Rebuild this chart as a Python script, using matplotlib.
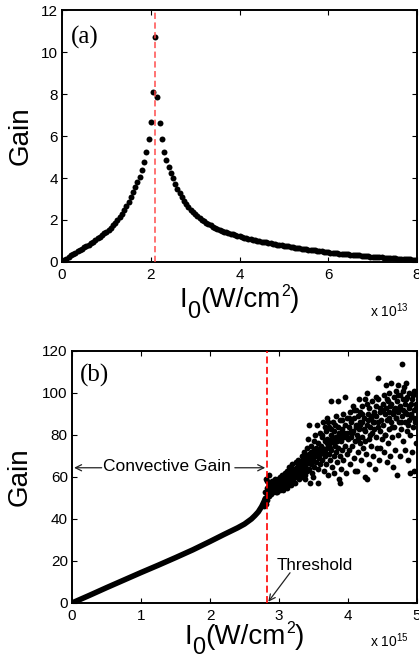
import matplotlib
matplotlib.use("Agg")
import matplotlib.pyplot as plt

plt.rcParams['font.family'] = ['Liberation Sans', 'DejaVu Sans']
plt.rcParams['mathtext.fontset'] = 'custom'
plt.rcParams['mathtext.rm'] = 'Liberation Sans'
plt.rcParams['mathtext.it'] = 'Liberation Sans:italic'
plt.rcParams['lines.scale_dashes'] = False

# ---- panel (a): gain vs intensity (units of 1e13 W/cm^2)
xa_left = [0.00, 0.05, 0.10, 0.15, 0.20, 0.25, 0.30, 0.35, 0.40, 0.45,
           0.50, 0.55, 0.60, 0.65, 0.70, 0.75, 0.80, 0.85, 0.90, 0.95,
           1.00, 1.05, 1.10, 1.15, 1.20, 1.25, 1.30, 1.35, 1.40, 1.45,
           1.50, 1.55, 1.60, 1.65, 1.70, 1.75, 1.80, 1.85, 1.90, 1.95,
           2.00, 2.05]
ya_left = [0.00, 0.08, 0.16, 0.24, 0.31, 0.38, 0.45, 0.51, 0.57, 0.63,
           0.70, 0.76, 0.83, 0.90, 0.97, 1.04, 1.12, 1.20, 1.28, 1.36,
           1.45, 1.54, 1.64, 1.75, 1.87, 2.00, 2.14, 2.30, 2.47, 2.65,
           2.85, 3.10, 3.33, 3.57, 3.80, 4.05, 4.38, 4.78, 5.22, 5.84,
           6.67, 8.08]
xa_right = [2.10, 2.15, 2.20, 2.25, 2.30, 2.35, 2.40, 2.45, 2.50, 2.55,
            2.60, 2.65, 2.70, 2.75, 2.80, 2.85, 2.90, 2.95, 3.00, 3.05,
            3.10, 3.15, 3.20, 3.25, 3.30, 3.35, 3.40, 3.45, 3.50, 3.55,
            3.60, 3.65, 3.70, 3.75, 3.80, 3.85, 3.90, 3.95, 4.00, 4.05,
            4.10, 4.15, 4.20, 4.25, 4.30, 4.35, 4.40, 4.45, 4.50, 4.55,
            4.60, 4.65, 4.70, 4.75, 4.80, 4.85, 4.90, 4.95, 5.00, 5.05,
            5.10, 5.15, 5.20, 5.25, 5.30, 5.35, 5.40, 5.45, 5.50, 5.55,
            5.60, 5.65, 5.70, 5.75, 5.80, 5.85, 5.90, 5.95, 6.00, 6.05,
            6.10, 6.15, 6.20, 6.25, 6.30, 6.35, 6.40, 6.45, 6.50, 6.55,
            6.60, 6.65, 6.70, 6.75, 6.80, 6.85, 6.90, 6.95, 7.00, 7.05,
            7.10, 7.15, 7.20, 7.25, 7.30, 7.35, 7.40, 7.45, 7.50, 7.55,
            7.60, 7.65, 7.70, 7.75, 7.80, 7.85, 7.90, 7.95, 8.00]
ya_right = [10.73, 7.86, 6.60, 5.84, 5.25, 4.86, 4.52, 4.24, 3.98, 3.72,
            3.48, 3.28, 3.08, 2.90, 2.76, 2.62, 2.49, 2.38, 2.27, 2.18,
            2.09, 2.01, 1.94, 1.87, 1.80, 1.74, 1.68, 1.63, 1.58, 1.53,
            1.49, 1.45, 1.41, 1.37, 1.34, 1.31, 1.28, 1.25, 1.22, 1.19,
            1.16, 1.13, 1.11, 1.08, 1.06, 1.04, 1.02, 0.99, 0.97, 0.95,
            0.93, 0.91, 0.89, 0.87, 0.85, 0.83, 0.81, 0.80, 0.78, 0.76,
            0.74, 0.72, 0.71, 0.69, 0.67, 0.66, 0.64, 0.62, 0.61, 0.59,
            0.58, 0.56, 0.55, 0.53, 0.52, 0.50, 0.49, 0.47, 0.46, 0.45,
            0.44, 0.43, 0.42, 0.40, 0.39, 0.38, 0.37, 0.36, 0.35, 0.34,
            0.33, 0.32, 0.31, 0.30, 0.29, 0.28, 0.27, 0.26, 0.25, 0.24,
            0.23, 0.23, 0.22, 0.21, 0.20, 0.19, 0.19, 0.18, 0.17, 0.16,
            0.16, 0.15, 0.14, 0.13, 0.13, 0.12, 0.11, 0.11, 0.10]
threshold_a = 2.10

# ---- panel (b): gain vs intensity (units of 1e15 W/cm^2)
xb_line = [0.00, 0.25, 0.50, 0.75, 1.00, 1.25, 1.50, 1.75, 2.00, 2.20,
           2.40, 2.50, 2.60, 2.65, 2.70, 2.75, 2.80]
yb_line = [0.0, 3.6, 7.3, 10.9, 14.5, 18.0, 21.6, 25.3, 29.3, 32.6,
           35.8, 37.6, 40.0, 41.6, 43.4, 46.0, 49.5]

xb_scatter = [
    2.78, 2.79, 2.80, 2.80, 2.81, 2.82, 2.82, 2.83, 2.83, 2.84, 2.84, 2.85, 2.86, 2.86, 2.87, 2.87, 2.88, 2.89, 2.89,
    2.90, 2.90, 2.91, 2.92, 2.92, 2.93, 2.94, 2.94, 2.95, 2.96, 2.96, 2.97, 2.98, 2.98, 2.99, 3.00, 2.85, 2.81,
    3.01, 3.02, 3.02, 3.03, 3.04, 3.05, 3.05, 3.06, 3.07, 3.07, 3.08, 3.09, 3.10, 3.10, 3.11, 3.12, 3.12, 3.13, 3.14,
    3.15, 3.15, 3.16, 3.17, 3.17, 3.18, 3.19, 3.20, 3.20, 3.21, 3.22, 3.23, 3.23, 3.24, 3.25, 3.25, 3.26, 3.27, 3.28,
    3.28, 3.29, 3.30, 3.30,
    3.31, 3.32, 3.32, 3.33, 3.34, 3.35, 3.35, 3.36, 3.37, 3.37, 3.38, 3.39, 3.40, 3.40, 3.41, 3.42, 3.42, 3.43, 3.43,
    3.44, 3.45, 3.45, 3.46, 3.47, 3.47, 3.48, 3.49, 3.50, 3.50, 3.51, 3.52, 3.52, 3.53, 3.54, 3.55, 3.55, 3.56, 3.56,
    3.57, 3.58, 3.58, 3.59, 3.60, 3.60, 3.38, 3.49,
    3.61, 3.62, 3.63, 3.64, 3.64, 3.65, 3.66, 3.67, 3.68, 3.68, 3.69, 3.70, 3.70, 3.71, 3.72, 3.73, 3.73, 3.74, 3.75,
    3.75, 3.76, 3.77, 3.78, 3.78, 3.79, 3.80, 3.80, 3.81, 3.82, 3.83, 3.83, 3.84, 3.85, 3.85, 3.86, 3.87, 3.87, 3.88,
    3.88, 3.89, 3.90, 3.90, 3.91, 3.92, 3.93, 3.93, 3.94, 3.95, 3.96, 3.96, 3.97, 3.98, 3.98, 3.99, 4.00,
    4.01, 4.02, 4.03, 4.03, 4.04, 4.05, 4.06, 4.07, 4.07, 4.08, 4.09, 4.10, 4.10, 4.11, 4.12, 4.13, 4.13, 4.14, 4.15,
    4.16, 4.16, 4.17, 4.18, 4.19, 4.20, 4.20, 4.21, 4.22, 4.23, 4.24, 4.25, 4.25, 4.26, 4.27, 4.27, 4.28, 4.29, 4.30,
    4.31, 4.31, 4.32, 4.33, 4.34, 4.35, 4.35, 4.36, 4.37, 4.38, 4.39, 4.40, 4.40, 4.41, 4.42, 4.43, 4.43, 4.44, 4.45,
    4.46, 4.46, 4.47, 4.48, 4.49, 4.50,
    4.51, 4.52, 4.52, 4.53, 4.54, 4.55, 4.55, 4.56, 4.57, 4.58, 4.58, 4.59, 4.60, 4.60, 4.61, 4.62, 4.62, 4.63, 4.64,
    4.65, 4.65, 4.66, 4.67, 4.68, 4.68, 4.69, 4.70, 4.71, 4.71, 4.72, 4.73, 4.73, 4.74, 4.75, 4.75, 4.76, 4.77, 4.78,
    4.78, 4.79, 4.80, 4.80, 4.81, 4.82, 4.83, 4.83, 4.84, 4.85, 4.85, 4.86, 4.87, 4.88, 4.88, 4.89, 4.90, 4.90, 4.91,
    4.92, 4.93, 4.93, 4.94, 4.95, 4.95, 4.96, 4.97, 4.98, 4.99, 5.00,
    2.88, 2.91, 2.93, 2.95, 2.97, 2.99, 3.01, 3.03, 3.06, 3.08, 3.11, 3.13, 3.16, 3.18, 3.21, 3.24, 3.26, 3.29, 3.31,
    3.34, 3.36, 3.39, 3.41, 3.44, 3.46, 3.48, 3.51, 3.53, 3.57, 3.59, 3.62, 3.66, 3.69, 3.72, 3.74, 3.77, 3.79, 3.82,
    3.84, 3.86, 3.89, 3.91, 3.94, 3.97, 4.05, 4.12, 4.18, 4.23, 4.29, 4.36,
    4.02, 4.06, 4.09, 4.14, 4.17, 4.21, 4.24, 4.28, 4.32, 4.34, 4.38, 4.41, 4.44, 4.47, 4.51, 4.53, 4.56, 4.59, 4.61,
    4.64, 4.66, 4.69, 4.72, 4.74, 4.77, 4.79, 4.82, 4.84, 4.87, 4.89, 4.91, 4.94, 4.96, 4.98, 3.63, 3.67, 3.71, 3.76,
    3.81, 3.92,
]
yb_scatter = [
    46, 48, 50, 53, 47, 51, 55, 49, 58, 52, 54, 56, 53, 51, 55, 57, 54, 52, 56,
    55, 58, 53, 56, 54, 57, 55, 59, 53, 56, 58, 55, 57, 54, 59, 56, 61, 59,
    54, 57, 60, 55, 58, 56, 61, 54, 59, 57, 62, 56, 58, 60, 55, 63, 59, 57, 61,
    65, 58, 60, 56, 63, 59, 66, 61, 58, 64, 60, 62, 57, 67, 63, 60, 65, 61, 68,
    64, 59, 66, 62,
    63, 67, 60, 70, 64, 62, 68, 72, 65, 61, 69, 66, 74, 63, 70, 67, 78, 64, 85,
    71, 57, 68, 75, 66, 72, 62, 69, 77, 73, 65, 70, 80, 67, 74, 85, 71, 57, 64,
    76, 69, 73, 81, 66, 71, 59, 60,
    75, 79, 68, 86, 72, 63, 77, 70, 82, 66, 74, 88, 78, 61, 71, 84, 76, 68, 96,
    80, 73, 65, 86, 77, 70, 82, 62, 75, 89, 72, 79, 67, 96, 84, 74, 59, 81, 57,
    70, 87, 77, 64, 83, 73, 90, 68, 79, 85, 98, 75, 62, 81, 71, 88, 78,
    84, 73, 91, 66, 79, 86, 75, 94, 82, 69, 88, 77, 63, 85, 92, 63, 80, 72, 89,
    97, 83, 76, 91, 68, 86, 79, 94, 74, 88, 82, 60, 97, 71, 100, 85, 59, 90, 78,
    93, 66, 84, 88, 75, 96, 81, 70, 91, 86, 64, 79, 94, 89, 74, 107, 84, 97, 68,
    74, 91, 82, 87, 78, 95,
    85, 99, 72, 90, 80, 104, 93, 67, 87, 96, 76, 83, 100, 91, 70, 105, 86, 95, 79,
    65, 90, 98, 84, 73, 93, 101, 88, 61, 96, 80, 104, 91, 86, 70, 99, 94, 83, 114,
    89, 97, 77, 92, 103, 86, 73, 95, 105, 90, 82, 98, 68, 93, 87, 100, 62, 80, 95,
    89, 72, 97, 84, 101, 63, 92, 86, 95, 76, 94,
    57, 54, 58, 57, 53, 55, 58, 56, 57, 60, 59, 61, 62, 61, 63, 62, 64, 63, 65,
    66, 66, 68, 68, 70, 71, 67, 72, 71, 73, 72, 74, 72, 76, 75, 74, 78, 76, 79,
    77, 78, 80, 79, 81, 80, 82, 84, 85, 83, 87, 86,
    88, 81, 92, 78, 86, 90, 77, 95, 80, 89, 83, 98, 86, 93, 92, 80, 97, 88, 94,
    84, 92, 88, 99, 93, 86, 101, 91, 97, 85, 94, 90, 99, 88, 93, 80, 84, 86, 83,
    85, 87,
]
threshold_b = 2.82

W, H = 419, 662
fig = plt.figure(figsize=(W / 100, H / 100), dpi=100)


def px_axes(left, top, right, bottom):
    return fig.add_axes([left / W, 1 - bottom / H, (right - left) / W, (bottom - top) / H])


def style_axes(ax):
    for s in ax.spines.values():
        s.set_linewidth(1.4)
    ax.tick_params(direction='in', length=3.5, width=0.8, top=True, right=True,
                   labelsize=11, pad=4)
    ax.tick_params(axis='y', pad=3)


def rich_label(xc, ybase, parts):
    # parts: (text, fontsize, vertical offset in px, downward positive)
    r = fig.canvas.get_renderer()
    items = []
    for s, fs, dy in parts:
        t = fig.text(0, 0, s, fontsize=fs, ha='left', va='baseline')
        items.append((t, dy, t.get_window_extent(r).width))
    x = xc - sum(w for _, _, w in items) / 2
    for t, dy, w in items:
        t.set_position((x / W, 1 - (ybase + dy) / H))
        x += w


# ---------------- panel (a)
ax1 = px_axes(62, 10, 417, 262)
ax1.plot(xa_left, ya_left, 'o', color='black', ms=4.3, mew=0)
ax1.plot(xa_right, ya_right, 'o', color='black', ms=4.3, mew=0)
ax1.axvline(threshold_a, color='#ff4545', alpha=0.75, lw=1.4, ls=(0, (4.5, 2.5)), zorder=5)
ax1.set_xlim(0, 8)
ax1.set_ylim(0, 12)
ax1.set_xticks([0, 2, 4, 6, 8])
ax1.set_yticks([0, 2, 4, 6, 8, 10, 12])
style_axes(ax1)
ax1.text(0.026, 0.893, '(a)', transform=ax1.transAxes, fontsize=18,
         family='Liberation Serif', ha='left', va='center')

# ---------------- panel (b)
ax2 = px_axes(72, 351, 417, 603)
ax2.plot(xb_line, yb_line, '-', color='black', lw=4.0, solid_capstyle='round')
ax2.plot(xb_scatter, yb_scatter, 'o', color='black', ms=4.2, mew=0)
ax2.axvline(threshold_b, color='red', lw=1.2, ls=(0, (5, 2.5)), zorder=5)
ax2.set_xlim(0, 5)
ax2.set_ylim(0, 120)
ax2.set_xticks([0, 1, 2, 3, 4, 5])
ax2.set_yticks([0, 20, 40, 60, 80, 100, 120])
style_axes(ax2)
ax2.text(0.022, 0.903, '(b)', transform=ax2.transAxes, fontsize=18,
         family='Liberation Serif', ha='left', va='center')

arrow = dict(arrowstyle='->', color='#222222', lw=0.9, shrinkA=0, shrinkB=0,
             mutation_scale=11)
ax2.text(1.38, 64.8, 'Convective Gain', fontsize=12.5, ha='center', va='center')
ax2.annotate('', xy=(0.03, 64.4), xytext=(0.43, 64.4), arrowprops=arrow)
ax2.annotate('', xy=(2.80, 64.4), xytext=(2.36, 64.4), arrowprops=arrow)
ax2.text(2.96, 15.7, 'Threshold', fontsize=12.3, ha='left', va='baseline')
ax2.annotate('', xy=(2.845, 0.6), xytext=(3.16, 14.4), arrowprops=arrow)

# ---------------- labels
fig.text(21 / W, 1 - 136 / H, 'Gain', fontsize=20, rotation=90, ha='center', va='center')
fig.text(20 / W, 1 - 477 / H, 'Gain', fontsize=20, rotation=90, ha='center', va='center')

rich_label(239.5, 307, [('I', 20, 0), ('0', 17, 10.5), ('(W/cm', 20, 0),
                        ('2', 11.5, -11), (')', 20, 0)])
rich_label(244.5, 644, [('I', 20, 0), ('0', 17, 10.5), ('(W/cm', 20, 0),
                        ('2', 11.5, -11), (')', 20, 0)])

fig.text(370 / W, 1 - 317 / H, r'x 10$^{13}$', fontsize=10, ha='left', va='baseline')
fig.text(370 / W, 1 - 647 / H, r'x 10$^{15}$', fontsize=10, ha='left', va='baseline')

fig.savefig('out.png', dpi=100)
